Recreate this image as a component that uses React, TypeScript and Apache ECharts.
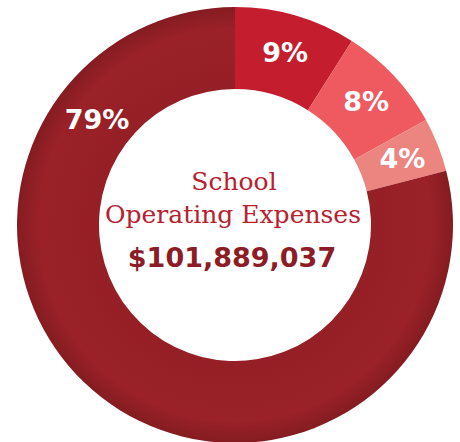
import React, { useEffect, useRef } from "react";
import * as echarts from "echarts";

const categories = ["Segment A", "Segment B", "Segment C", "Segment D"];
const values = [9, 8, 4, 79];
const sliceColors = ["#c41e2e", "#ee5a5f", "#ec8480", "#9a2128"];
const titleLines = ["School", "Operating Expenses"];
const totalLabel = "$101,889,037";

export default function App() {
  const ref = useRef<HTMLDivElement>(null);
  useEffect(() => {
    if (!ref.current) return;
    const chart = echarts.init(ref.current, undefined, { renderer: "svg" });
    const bigFill = new echarts.graphic.RadialGradient(0.5, 0.5, 0.5, [
      { offset: 0.6, color: "#951f26" },
      { offset: 0.9, color: "#9a2128" },
      { offset: 1, color: "#841c21" },
    ]);
    chart.setOption({
      animation: false,
      backgroundColor: "#ffffff",
      series: [
        {
          type: "pie",
          center: [235, 225],
          radius: [136, 218],
          startAngle: 90,
          clockwise: true,
          avoidLabelOverlap: false,
          itemStyle: { borderWidth: 0 },
          label: {
            show: true,
            position: "inside",
            formatter: "{c}%",
            color: "#ffffff",
            fontSize: 27,
            fontWeight: "bold",
            fontFamily: "DejaVu Sans",
          },
          labelLine: { show: false },
          labelLayout: (p: any) =>
            p.dataIndex === 3 ? { x: 97, y: 119, align: "center", verticalAlign: "middle" } : {},
          emphasis: { disabled: true },
          data: categories.map((name, i) => ({
            name,
            value: values[i],
            itemStyle: { color: i === 3 ? bigFill : sliceColors[i] },
          })),
        },
      ],
      graphic: [
        {
          type: "text",
          x: 234,
          y: 181,
          style: {
            text: titleLines[0],
            fill: "#b8202e",
            font: "25px 'DejaVu Serif'",
            textAlign: "center",
            textVerticalAlign: "middle",
          },
        },
        {
          type: "text",
          x: 233,
          y: 214,
          style: {
            text: titleLines[1],
            fill: "#b8202e",
            font: "25px 'DejaVu Serif'",
            textAlign: "center",
            textVerticalAlign: "middle",
          },
        },
        {
          type: "text",
          x: 232,
          y: 257,
          style: {
            text: totalLabel,
            fill: "#8c1c26",
            font: "bold 27px 'DejaVu Sans'",
            textAlign: "center",
            textVerticalAlign: "middle",
          },
        },
      ],
    });
    return () => chart.dispose();
  }, []);
  return (
    <div
      ref={ref}
      style={{ position: "fixed", left: 0, top: 0, width: 460, height: 442 }}
    />
  );
}
